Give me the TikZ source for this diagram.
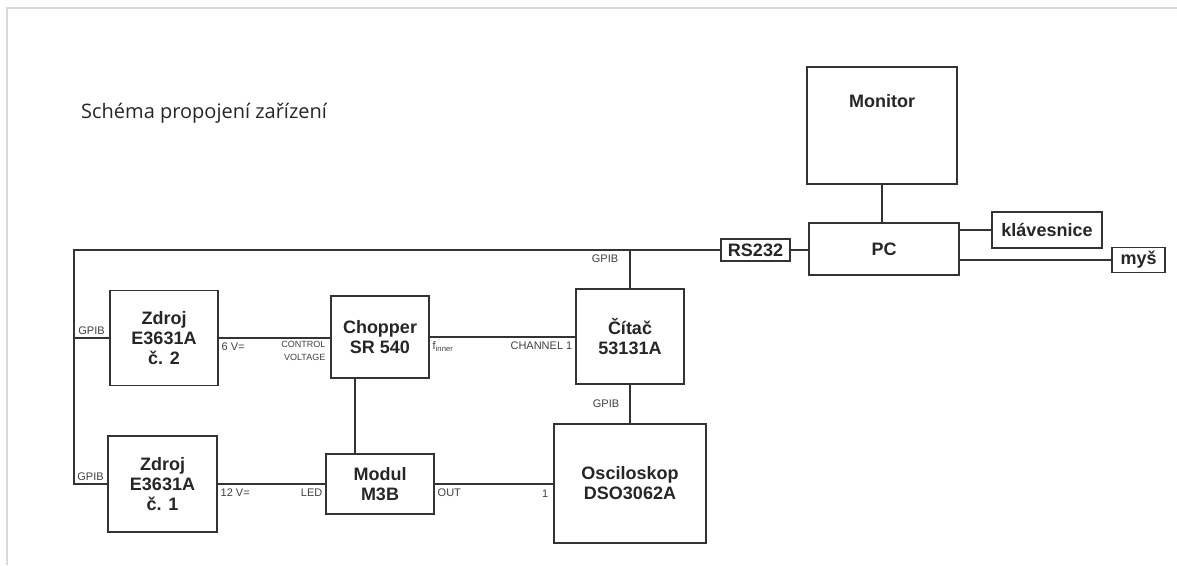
\documentclass[tikz,border=0pt]{standalone}
\usepackage{fontspec}
\setmainfont{Liberation Sans}
\newfontfamily\titlefont{Open Sans}
\usetikzlibrary{positioning}

\begin{document}
\begin{tikzpicture}[x=1pt,y=-1pt,line width=1.7pt,draw=black!80]
  \tikzstyle{devfont}=[font=\fontsize{18}{20}\selectfont\bfseries,text=black!85]
  \tikzstyle{dev}=[draw=black!80,rectangle,align=center,inner sep=2pt,devfont]
  \tikzstyle{port}=[font=\fontsize{11}{12}\selectfont,text=black!75,inner sep=2pt]
\useasboundingbox (0,0) rectangle (1177,565);
\draw[black!15,line width=1.5pt] (7,565) -- (7,8) -- (1177,8);
\node[font=\titlefont\fontsize{20}{22}\selectfont,text=black!85,anchor=west] (title) at (77,113) {Schéma propojení zařízení};
\node[dev,minimum width=150pt,minimum height=117pt,label={[devfont,anchor=center,yshift=-35pt]north:Monitor}] (monitor) at (882,125.5) {};
\node[dev,minimum width=150pt,minimum height=52pt] (pc) at (884,249) {PC};
\node[dev,minimum width=69pt,minimum height=22pt] (rs232) at (755.5,250) {RS232};
\node[dev,minimum width=110pt,minimum height=36pt] (klav) at (1047,230) {klávesnice};
\node[dev,minimum width=53pt,minimum height=25pt] (mys) at (1138.5,260) {myš};
\node[dev,minimum width=108pt,minimum height=95pt] (zdroj2) at (164,338) {Zdroj\\E3631A\\č. 2};
\node[dev,minimum width=109pt,minimum height=96pt] (zdroj1) at (162.5,484) {Zdroj\\E3631A\\č. 1};
\node[dev,minimum width=98pt,minimum height=82pt] (chopper) at (380,337) {Chopper\\SR 540};
\node[dev,minimum width=108pt,minimum height=95pt] (citac) at (630,336.5) {Čítač\\53131A};
\node[dev,minimum width=108pt,minimum height=60pt] (modul) at (380,484) {Modul\\M3B};
\node[dev,minimum width=152pt,minimum height=119pt] (osc) at (630,483.5) {Osciloskop\\DSO3062A};
\coordinate (bustop) at (74,250);
\draw (rs232.west) -- (bustop) |- (zdroj1.west);
\path (zdroj1.west) -- node[port,above,yshift=1pt]{GPIB} (zdroj1.west -| bustop);
\draw (zdroj2.west) -- node[port,above,yshift=1pt]{GPIB} (zdroj2.west -| bustop);
\draw (rs232.east) -- (rs232.east -| pc.west);
\draw (monitor.south) -- (monitor.south |- pc.north);
\draw (klav.west) -- (klav.west -| pc.east);
\draw (mys.west) -- (mys.west -| pc.east);
\draw (citac.north) -- (citac.north |- bustop) node[port,anchor=north east,xshift=-9pt,yshift=-2pt]{GPIB};
\draw (citac.south) -- node[port,left,xshift=-8pt]{GPIB} (osc.north);
\draw (zdroj2.east) -- (zdroj2.east -| chopper.west)
  node[pos=0,port,anchor=north west,yshift=-2pt]{6 V=}
  node[pos=1,port,anchor=north east,align=right,xshift=-2pt,font=\fontsize{9}{13}\selectfont]{CONTROL\\VOLTAGE};
\draw (chopper.east) -- (chopper.east -| citac.west)
  node[pos=0,port,anchor=north west,yshift=-2pt]{f\textsubscript{inner}}
  node[pos=1,port,anchor=north east,yshift=-2pt]{CHANNEL 1};
\draw ([xshift=-25pt]chopper.south) -- ([xshift=-25pt]modul.north);
\draw (zdroj1.east) -- (modul.west)
  node[pos=0,port,anchor=north west,yshift=-2pt]{12 V=}
  node[pos=1,port,anchor=north east,yshift=-2pt]{LED};
\draw (modul.east) -- (modul.east -| osc.west)
  node[pos=0,port,anchor=north west,yshift=-2pt]{OUT}
  node[pos=1,port,anchor=north east,xshift=-2pt,yshift=-3pt]{1};
\end{tikzpicture}
\end{document}
